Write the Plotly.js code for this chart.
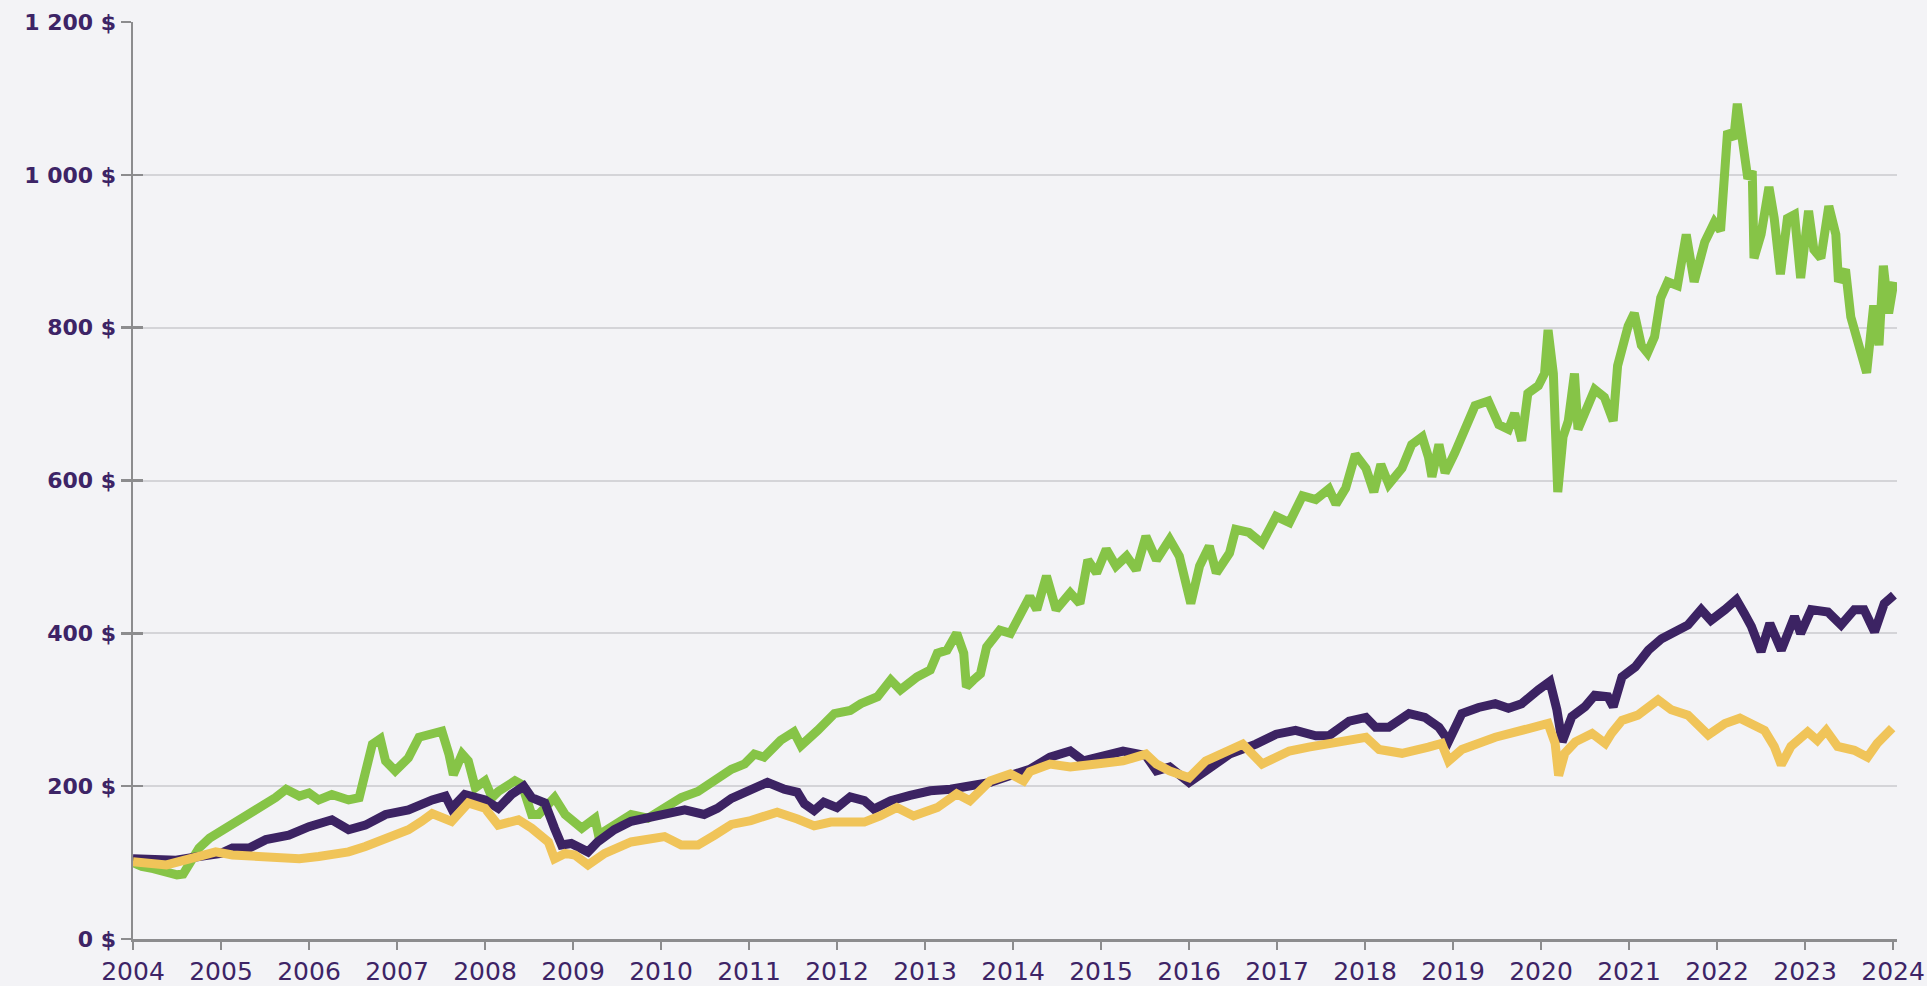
<!DOCTYPE html>
<html>
<head>
<meta charset="utf-8">
<script src="https://cdn.plot.ly/plotly-3.0.1.min.js"></script>
<style>
html,body{margin:0;padding:0;background:#f3f3f6;}
#chart{width:1927px;height:986px;}
</style>
</head>
<body>
<div id="chart"></div>
<script>
// ---- Data (decimal years) ----
const greenYears = [2004.00,2004.10,2004.23,2004.38,2004.50,2004.57,2004.75,2004.87,2005.00,2005.13,2005.32,2005.51,2005.62,2005.74,2005.89,2006.00,2006.11,2006.26,2006.45,2006.57,2006.64,2006.72,2006.81,2006.87,2006.98,2007.13,2007.25,2007.40,2007.51,2007.59,2007.64,2007.74,2007.81,2007.89,2008.00,2008.08,2008.15,2008.34,2008.42,2008.53,2008.61,2008.79,2008.91,2009.10,2009.25,2009.29,2009.40,2009.66,2009.85,2010.04,2010.23,2010.42,2010.61,2010.80,2010.95,2011.06,2011.17,2011.36,2011.51,2011.59,2011.78,2011.97,2012.15,2012.27,2012.46,2012.61,2012.72,2012.91,2013.06,2013.14,2013.25,2013.36,2013.44,2013.47,2013.55,2013.63,2013.70,2013.85,2013.97,2014.08,2014.19,2014.27,2014.38,2014.49,2014.65,2014.76,2014.85,2014.95,2015.06,2015.17,2015.29,2015.40,2015.51,2015.63,2015.78,2015.89,2015.97,2016.02,2016.12,2016.23,2016.31,2016.46,2016.53,2016.68,2016.83,2016.99,2017.14,2017.29,2017.44,2017.59,2017.67,2017.78,2017.89,2018.01,2018.10,2018.18,2018.27,2018.42,2018.53,2018.65,2018.72,2018.76,2018.84,2018.91,2019.02,2019.14,2019.25,2019.40,2019.52,2019.63,2019.70,2019.78,2019.85,2019.97,2020.04,2020.08,2020.14,2020.19,2020.25,2020.31,2020.38,2020.42,2020.53,2020.61,2020.72,2020.82,2020.87,2020.99,2021.06,2021.14,2021.21,2021.29,2021.36,2021.44,2021.55,2021.65,2021.74,2021.86,2021.97,2022.04,2022.12,2022.19,2022.23,2022.29,2022.35,2022.40,2022.42,2022.50,2022.59,2022.65,2022.72,2022.80,2022.88,2022.95,2023.04,2023.10,2023.18,2023.27,2023.35,2023.38,2023.46,2023.52,2023.59,2023.70,2023.78,2023.84,2023.89,2023.95,2024.01];
const greenValues = [100,95,92,86,84,85,119,132,141,150,163,176,185,196,187,191,182,189,182,185,215,255,262,233,220,237,264,270,272,242,215,242,233,198,207,185,193,207,202,163,163,185,163,145,158,136,145,163,158,171,185,193,207,222,229,242,238,260,271,253,273,295,299,308,317,339,326,343,352,374,378,400,374,330,339,347,382,404,400,426,448,431,475,431,453,439,496,479,510,488,501,483,527,496,523,501,457,439,488,514,479,505,536,532,518,553,545,580,575,589,569,590,634,616,585,621,595,616,647,657,631,605,647,610,636,667,698,704,673,667,688,652,714,724,740,797,740,585,657,678,740,667,698,719,709,678,750,802,819,777,767,788,839,860,855,922,860,912,938,927,1057,1047,1093,1031,995,1005,891,922,984,943,870,943,948,865,953,902,891,959,922,860,876,814,788,741,829,777,881,819,860];

const purpleYears = [2004.00,2004.23,2004.49,2004.75,2005.00,2005.13,2005.32,2005.51,2005.77,2006.00,2006.26,2006.45,2006.64,2006.87,2007.13,2007.40,2007.55,2007.62,2007.77,2008.00,2008.15,2008.30,2008.44,2008.53,2008.68,2008.79,2008.87,2008.98,2009.17,2009.28,2009.47,2009.66,2009.85,2010.04,2010.27,2010.49,2010.64,2010.80,2010.98,2011.21,2011.40,2011.55,2011.63,2011.74,2011.85,2012.00,2012.15,2012.31,2012.42,2012.61,2012.83,2013.06,2013.29,2013.51,2013.74,2013.97,2014.19,2014.42,2014.65,2014.80,2014.95,2015.25,2015.51,2015.63,2015.78,2016.00,2016.19,2016.46,2016.76,2016.99,2017.21,2017.44,2017.59,2017.82,2018.01,2018.12,2018.27,2018.50,2018.68,2018.84,2018.95,2019.10,2019.29,2019.48,2019.63,2019.78,2019.97,2020.10,2020.18,2020.24,2020.35,2020.50,2020.61,2020.76,2020.82,2020.92,2021.07,2021.22,2021.37,2021.52,2021.67,2021.82,2021.93,2022.09,2022.22,2022.31,2022.39,2022.50,2022.60,2022.73,2022.88,2022.95,2023.07,2023.26,2023.41,2023.56,2023.67,2023.79,2023.90,2024.01];
const purpleValues = [105,105,103,108,112,119,119,130,136,147,156,143,149,163,169,182,187,171,189,182,171,189,200,185,178,145,123,125,114,127,143,154,158,163,169,163,171,184,192,205,196,192,177,168,179,172,186,181,170,181,188,194,196,199,205,214,222,238,246,233,238,246,240,220,225,205,220,242,255,268,273,266,266,285,290,277,277,295,290,277,259,295,303,308,302,308,326,337,300,258,291,304,319,317,304,343,356,378,393,402,411,431,417,431,444,426,409,376,413,378,422,400,431,428,411,431,431,402,439,450];

const yellowYears = [2004.00,2004.38,2004.75,2004.94,2005.13,2005.51,2005.89,2006.11,2006.45,2006.64,2006.87,2007.13,2007.28,2007.40,2007.62,2007.81,2008.00,2008.15,2008.38,2008.53,2008.72,2008.79,2008.91,2009.02,2009.17,2009.36,2009.66,2009.85,2010.04,2010.23,2010.42,2010.61,2010.80,2011.02,2011.32,2011.55,2011.74,2011.93,2012.31,2012.49,2012.68,2012.87,2013.14,2013.36,2013.51,2013.74,2013.97,2014.12,2014.19,2014.42,2014.65,2014.95,2015.25,2015.51,2015.63,2015.78,2016.00,2016.19,2016.46,2016.61,2016.83,2017.14,2017.36,2017.59,2017.82,2018.01,2018.16,2018.42,2018.72,2018.87,2018.95,2019.10,2019.48,2019.67,2019.86,2020.08,2020.16,2020.20,2020.27,2020.39,2020.58,2020.73,2020.80,2020.92,2021.10,2021.33,2021.48,2021.67,2021.90,2022.09,2022.26,2022.39,2022.54,2022.65,2022.73,2022.84,2023.03,2023.14,2023.24,2023.37,2023.56,2023.71,2023.82,2023.99];
const yellowValues = [101,97,108,114,110,108,105,108,114,121,132,143,154,164,154,178,171,149,156,145,127,105,112,110,97,112,127,130,134,123,123,136,150,155,166,157,148,153,153,161,172,161,172,190,181,207,216,207,219,229,225,229,233,242,229,220,211,233,246,255,229,246,251,255,259,264,248,243,251,256,233,248,264,269,276,282,256,214,243,258,269,256,269,286,293,313,300,293,267,282,289,282,273,252,228,252,271,260,273,252,247,238,256,276];

const yTickValues = [0,200,400,600,800,1000,1200];
const yTickLabels = ["0 $","200 $","400 $","600 $","800 $","1 000 $","1 200 $"];
const xTickValues = [2004,2005,2006,2007,2008,2009,2010,2011,2012,2013,2014,2015,2016,2017,2018,2019,2020,2021,2022,2023,2024];
const xTickLabels = xTickValues.map(String);

// ---- Styling ----
const LABEL = "#3d2466";
const AXIS = "#8c8c8e";
const GRID = "#d4d4d8";
const FONT = "DejaVu Sans, sans-serif";

const traces = [
  {x: greenYears, y: greenValues, type: "scatter", mode: "lines",
   line: {color: "#86c447", width: 9, shape: "linear"}, hoverinfo: "skip"},
  {x: purpleYears, y: purpleValues, type: "scatter", mode: "lines",
   line: {color: "#3c2363", width: 9}, hoverinfo: "skip"},
  {x: yellowYears, y: yellowValues, type: "scatter", mode: "lines",
   line: {color: "#f0c459", width: 9}, hoverinfo: "skip"}
];

const layout = {
  width: 1927, height: 986,
  paper_bgcolor: "#f3f3f6", plot_bgcolor: "#f3f3f6",
  margin: {l: 133, r: 30, t: 22, b: 47, pad: 0},
  showlegend: false,
  xaxis: {
    range: [2004, 2024.045], tickmode: "array", tickvals: xTickValues, ticktext: xTickLabels,
    showgrid: false, zeroline: false, showline: true, linecolor: AXIS, linewidth: 2.5,
    ticks: "outside", ticklen: 8, tickwidth: 2.5, tickcolor: AXIS,
    ticklabeloverflow: "allow",
    tickfont: {family: FONT, size: 25, color: LABEL}, fixedrange: true
  },
  yaxis: {
    range: [0, 1200], tickmode: "array", tickvals: yTickValues, ticktext: yTickLabels,
    showgrid: true, gridcolor: GRID, gridwidth: 2, zeroline: false,
    showline: true, linecolor: AXIS, linewidth: 2.5,
    ticks: "outside", ticklen: 10, tickwidth: 2.5, tickcolor: AXIS,
    ticklabeloverflow: "allow",
    tickfont: {family: FONT, size: 22, color: LABEL, weight: "bold"}, fixedrange: true
  },
  yaxis2: {
    overlaying: "y", anchor: "x", side: "left", range: [0, 1200],
    tickmode: "array", tickvals: yTickValues, showticklabels: false,
    showgrid: false, zeroline: false, showline: false,
    ticks: "inside", ticklen: 10, tickwidth: 2.5, tickcolor: AXIS, fixedrange: true
  }
};

// invisible trace to bring yaxis2 into existence
traces.unshift({x: [2004], y: [0], yaxis: "y2", type: "scatter", mode: "markers",
  marker: {opacity: 0}, hoverinfo: "skip"});

Plotly.newPlot("chart", traces, layout, {displayModeBar: false, staticPlot: true});
</script>
</body>
</html>
